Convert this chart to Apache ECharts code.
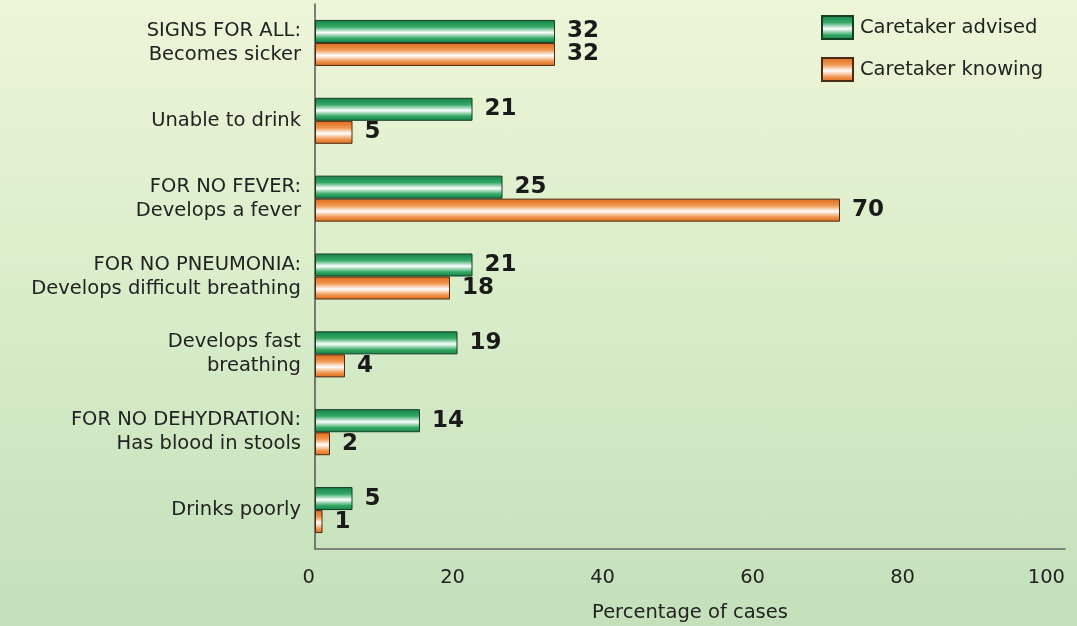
<!DOCTYPE html>
<html>
<head>
<meta charset="utf-8">
<script src="https://cdn.jsdelivr.net/npm/echarts@6/dist/echarts.min.js"></script>
<style>
  html, body { margin: 0; padding: 0; }
  #chart {
    width: 1077px;
    height: 626px;
    background: linear-gradient(to top, #c3e0bb 0%, #d8ecc8 50%, #eef5d8 100%);
  }
</style>
</head>
<body>
<div id="chart"></div>
<script>
// signs / danger criteria, top to bottom
var categories = [
  'SIGNS FOR ALL:\nBecomes sicker',
  'Unable to drink',
  'FOR NO FEVER:\nDevelops a fever',
  'FOR NO PNEUMONIA:\nDevelops difficult breathing',
  'Develops fast\nbreathing',
  'FOR NO DEHYDRATION:\nHas blood in stools',
  'Drinks poorly'
];
var advised = [32, 21, 25, 21, 19, 14, 5];
var knowing = [32, 5, 70, 18, 4, 2, 1];
var xTicks = [0, 20, 40, 60, 80, 100];

var chart = echarts.init(document.getElementById('chart'));

// cylinder-like shading for bars
function tube(dark, mid) {
  return new echarts.graphic.LinearGradient(0, 0, 0, 1, [
    { offset: 0, color: dark },
    { offset: 0.3, color: mid },
    { offset: 0.55, color: '#ffffff' },
    { offset: 0.8, color: mid },
    { offset: 1, color: dark }
  ]);
}

var labelStyle = {
  show: true,
  position: 'right',
  distance: 12,
  fontFamily: 'DejaVu Sans',
  fontWeight: 900,
  fontSize: 23,
  color: '#1a1a1a'
};

var option = {
  backgroundColor: 'transparent',
  textStyle: { fontFamily: 'DejaVu Sans' },
  legend: {
    orient: 'vertical',
    left: 816,
    top: 10,
    icon: 'rect',
    itemWidth: 31,
    itemHeight: 23,
    itemGap: 17,
    textStyle: { fontSize: 19.5, color: '#222', padding: [0, 0, 0, 2] },
    data: ['Caretaker advised', 'Caretaker knowing']
  },
  grid: { left: 315, right: 12, top: 4, bottom: 77, outerBoundsMode: 'none' },
  xAxis: {
    type: 'value',
    min: 0,
    max: 100,
    interval: 20,
    name: 'Percentage of cases',
    nameLocation: 'middle',
    nameGap: 54,
    nameTextStyle: { fontSize: 19.5, color: '#222' },
    axisLine: { show: true, lineStyle: { color: '#666', width: 1.5 } },
    axisTick: { show: false },
    splitLine: { show: false },
    axisLabel: {
      fontSize: 19.5,
      color: '#222',
      margin: 19,
      align: 'right',
      customValues: xTicks
    }
  },
  yAxis: {
    type: 'category',
    inverse: true,
    data: categories,
    axisLine: { show: true, lineStyle: { color: '#555', width: 1.5 } },
    axisTick: { show: false },
    axisLabel: {
      fontSize: 19.5,
      lineHeight: 24,
      color: '#222',
      margin: 14,
      align: 'right'
    }
  },
  series: [
    {
      name: 'Caretaker advised',
      type: 'bar',
      data: advised,
      barWidth: 23,
      barGap: '0%',
      itemStyle: {
        color: tube('#138247', '#35a866'),
        borderColor: '#143d24',
        borderWidth: 1
      },
      label: labelStyle
    },
    {
      name: 'Caretaker knowing',
      type: 'bar',
      data: knowing,
      barWidth: 23,
      barGap: '0%',
      itemStyle: {
        color: tube('#dc6a1c', '#f0964e'),
        borderColor: '#4a2a10',
        borderWidth: 1
      },
      label: labelStyle
    }
  ]
};

option && chart.setOption(option);
</script>
</body>
</html>
